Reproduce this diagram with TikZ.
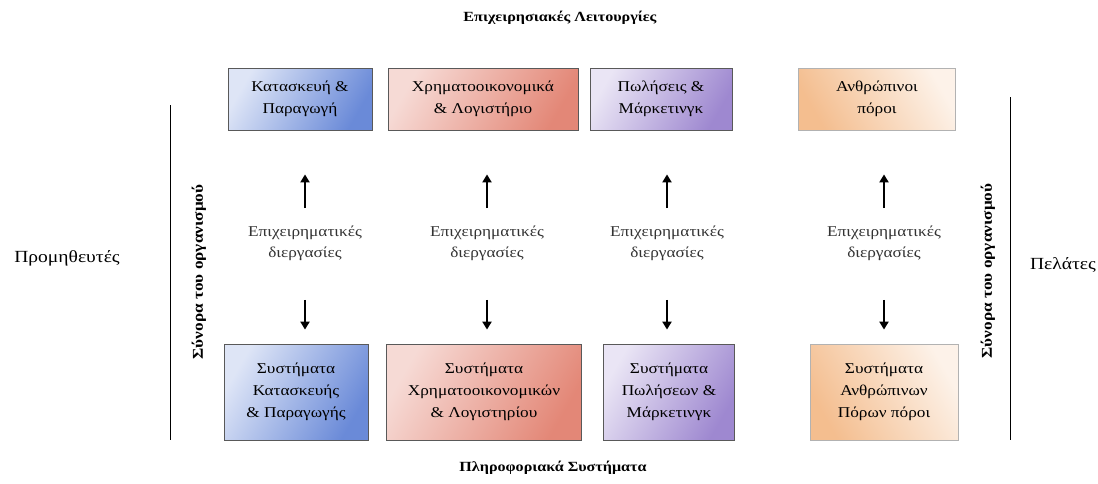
\documentclass[tikz,border=0pt]{standalone}
\usepackage{fontspec}
\setmainfont[FakeStretch=1.15]{Liberation Serif}
\usetikzlibrary{arrows.meta}
\definecolor{bblue}{HTML}{6A8AD8}
\definecolor{bred}{HTML}{E07A68}
\definecolor{bpurple}{HTML}{9E88D0}
\definecolor{borange}{HTML}{F0A86A}
\tikzset{
  fbox/.style={draw=gray!70!black, line width=0.8pt, minimum height=62pt, align=center, inner sep=2pt,
    font=\fontsize{15}{22}\selectfont},
  sbox/.style={fbox, minimum height=96pt},
  lab/.style={align=center, font=\fontsize{15}{21}\selectfont, text=black!80},
  side/.style={font=\fontsize{17}{19}\selectfont},
  vside/.style={rotate=90, font=\bfseries\fontsize{15}{17}\selectfont},
  title/.style={font=\bfseries\fontsize{14}{16}\selectfont},
  arr/.style={-{Triangle[length=8pt,width=9pt]}, line width=2.6pt},
  bline/.style={line width=1pt},
  orng/.style={left color=borange!75, right color=borange!15, shading angle=120}
}
\begin{document}
\begin{tikzpicture}[x=1pt,y=-1pt]
\useasboundingbox (0,0) rectangle (1098,483);
\fill[white] (0,0) rectangle (1098,483);
\node[title] (top) at (560,18) {Επιχειρησιακές Λειτουργίες};
\node[title] (bot) at (553,468) {Πληροφοριακά Συστήματα};

\node[fbox, minimum width=144pt, left color=bblue!22, right color=bblue, shading angle=60] (b1) at (300,99) {Κατασκευή \&\\Παραγωγή};
\node[fbox, minimum width=190pt, left color=bred!28, right color=bred!90, shading angle=60] (b2) at (483,99) {Χρηματοοικονομικά\\\& Λογιστήριο};
\node[fbox, minimum width=142pt, left color=bpurple!22, right color=bpurple, shading angle=60] (b3) at (661,99) {Πωλήσεις \&\\Μάρκετινγκ};
\node[fbox, minimum width=157pt, orng, draw=gray!60] (b4) at (877,99) {Ανθρώπινοι\\πόροι};

\node[sbox, minimum width=144pt, left color=bblue!22, right color=bblue, shading angle=60] (s1) at (296,392) {Συστήματα\\Κατασκευής\\\& Παραγωγής};
\node[sbox, minimum width=195pt, left color=bred!28, right color=bred!90, shading angle=60] (s2) at (484,392) {Συστήματα\\Χρηματοοικονομικών\\\& Λογιστηρίου};
\node[sbox, minimum width=131pt, left color=bpurple!22, right color=bpurple, shading angle=60] (s3) at (669,392) {Συστήματα\\Πωλήσεων \&\\Μάρκετινγκ};
\node[sbox, minimum width=148pt, orng, draw=gray!60] (s4) at (884,392) {Συστήματα\\Ανθρώπινων\\Πόρων πόροι};

\foreach \i/\x in {1/305,2/487,3/667,4/884}{
  \node[lab] (l\i) at (\x,243) {Επιχειρηματικές\\διεργασίες};
}
\foreach \i in {1,2,3,4}{
  \draw[arr, shorten <=14pt, shorten >=44pt] (l\i.north) -- (l\i.north |- b\i.south);
  \draw[arr, shorten <=36pt, shorten >=14pt] (l\i.south) -- (l\i.south |- s\i.north);
}

\coordinate (lt) at (170,105);
\coordinate (lb) at (170,440);
\coordinate (rt) at (1010,97);
\coordinate (rb) at (1010,440);
\draw[bline] (lt) -- (lb);
\draw[bline] (rt) -- (rb);
\node[vside] (vl) at (199,272) {Σύνορα του οργανισμού};
\node[vside] (vr) at (988,271) {Σύνορα του οργανισμού};
\node[side] (prom) at (67,258) {Προμηθευτές};
\node[side] (pel) at (1063,265) {Πελάτες};
\end{tikzpicture}
\end{document}
